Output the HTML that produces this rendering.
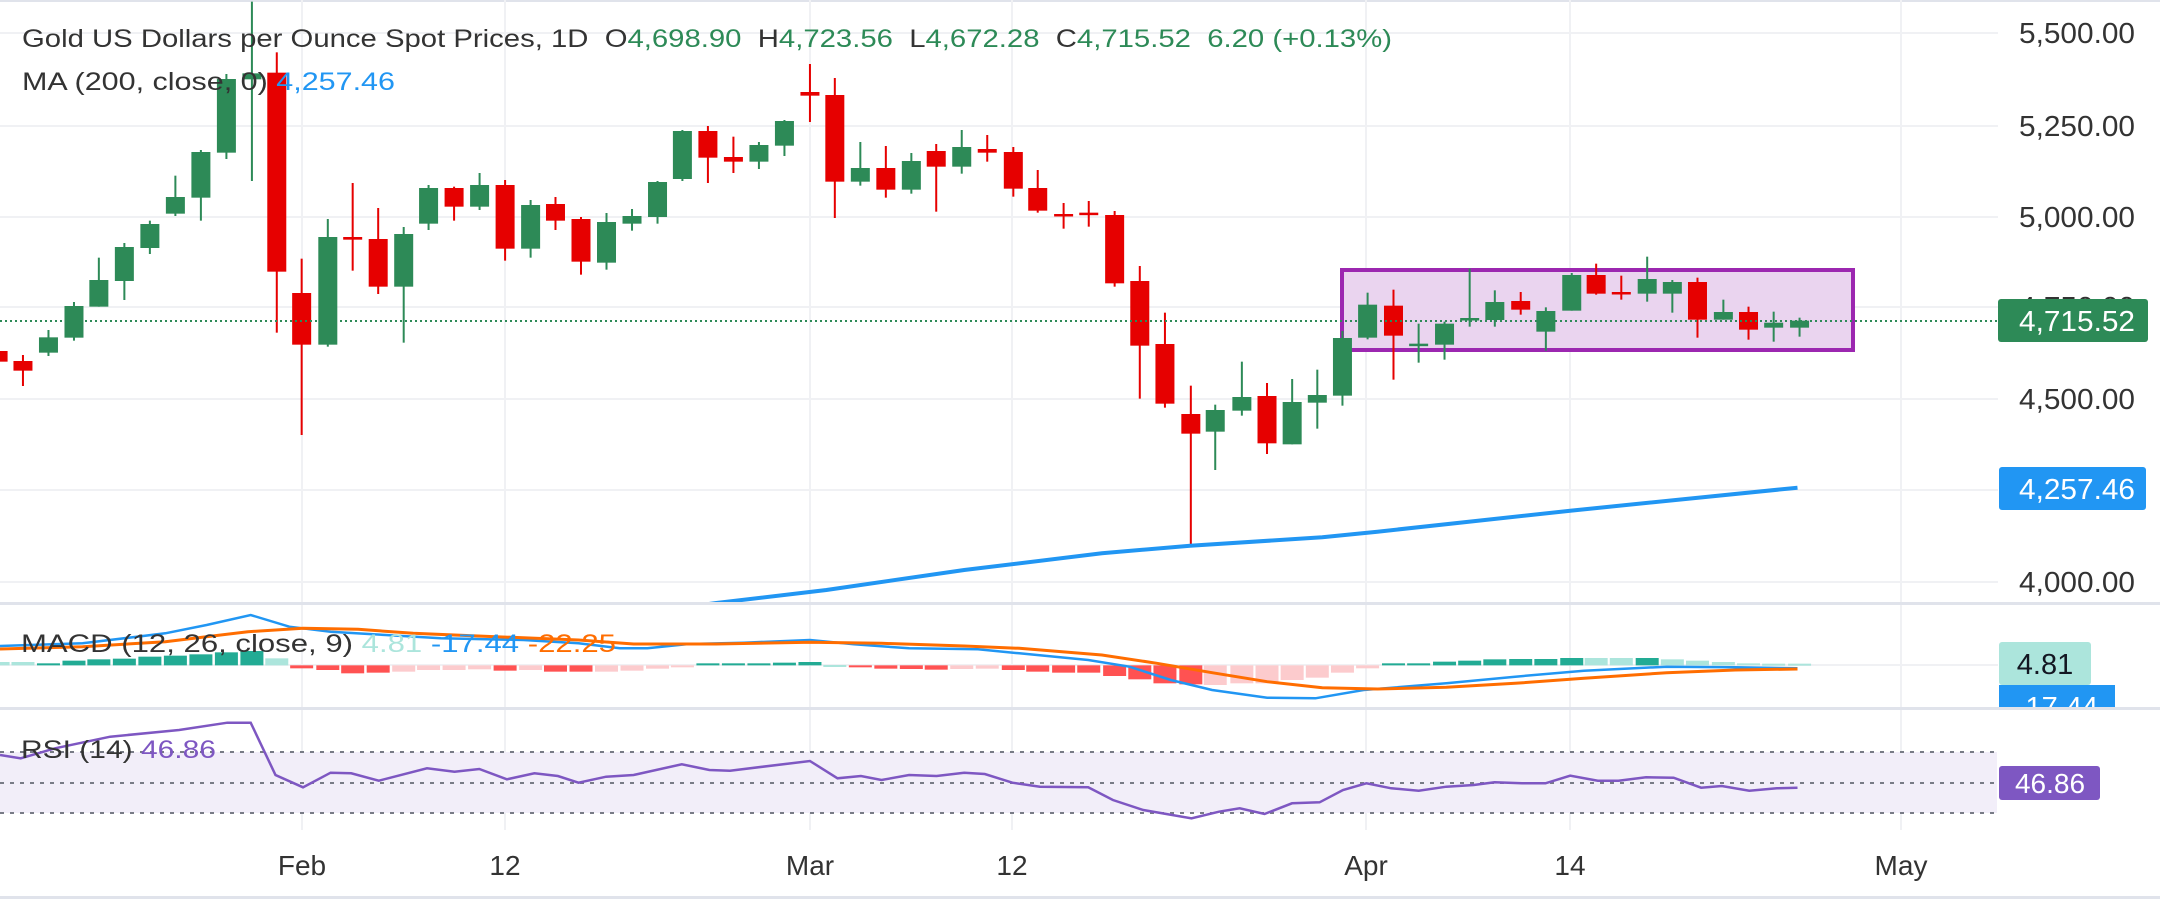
<!DOCTYPE html>
<html><head><meta charset="utf-8"><style>
html,body{margin:0;padding:0;background:#fff;}
svg{display:block;}
text{font-family:"Liberation Sans",sans-serif;white-space:pre;}
</style></head><body>
<svg id="s" width="2160" height="901" xmlns="http://www.w3.org/2000/svg">
<defs><clipPath id="mainclip"><rect x="0" y="0" width="1998" height="602"/></clipPath></defs>
<rect width="2160" height="901" fill="#fff"/>
<rect x="0" y="0" width="2160" height="2" fill="#e0e3eb"/>
<g id="grid" stroke="#f0f1f4" stroke-width="2">
<line x1="302" y1="0" x2="302" y2="830"/><line x1="505" y1="0" x2="505" y2="830"/><line x1="810" y1="0" x2="810" y2="830"/><line x1="1012" y1="0" x2="1012" y2="830"/><line x1="1366" y1="0" x2="1366" y2="830"/><line x1="1570" y1="0" x2="1570" y2="830"/><line x1="1901" y1="0" x2="1901" y2="830"/>
<line x1="0" y1="33" x2="1998" y2="33"/><line x1="0" y1="126" x2="1998" y2="126"/><line x1="0" y1="217" x2="1998" y2="217"/><line x1="0" y1="307" x2="1998" y2="307"/><line x1="0" y1="399" x2="1998" y2="399"/><line x1="0" y1="490" x2="1998" y2="490"/><line x1="0" y1="582" x2="1998" y2="582"/>
<line x1="0" y1="665" x2="1998" y2="665"/>
</g>
<rect x="1342" y="270" width="511" height="80" fill="#ead4ef" stroke="#9c27b0" stroke-width="4"/>
<g id="candles"></g>
<line x1="0" y1="321" x2="1998" y2="321" stroke="#2d8a57" stroke-width="2" stroke-dasharray="2,3"/>
<polyline id="ma" fill="none" stroke="#2196f3" stroke-width="4" clip-path="url(#mainclip)"/>
<rect x="0" y="602" width="2160" height="3" fill="#e0e3eb"/>
<g id="hist"></g>
<polyline id="macd" fill="none" stroke="#2196f3" stroke-width="2.5"/>
<polyline id="sig" fill="none" stroke="#ff6d00" stroke-width="3"/>
<rect x="0" y="707" width="2160" height="3" fill="#e0e3eb"/>
<rect x="0" y="752" width="1997" height="61" fill="#f2eef9"/>
<g stroke="#787b86" stroke-width="2" stroke-dasharray="4,6">
<line x1="0" y1="752" x2="1997" y2="752"/><line x1="0" y1="783" x2="1997" y2="783"/><line x1="0" y1="813" x2="1997" y2="813"/></g>
<polyline id="rsi" fill="none" stroke="#7e57c2" stroke-width="2.5"/>
<rect x="0" y="896" width="2160" height="3" fill="#e0e3eb"/>
<g font-size="25">
<text x="22" y="47" textLength="1370" lengthAdjust="spacingAndGlyphs" fill="#333">Gold US Dollars per Ounce Spot Prices, 1D  O<tspan fill="#2d8a57">4,698.90</tspan>  H<tspan fill="#2d8a57">4,723.56</tspan>  L<tspan fill="#2d8a57">4,672.28</tspan>  C<tspan fill="#2d8a57">4,715.52  6.20 (+0.13%)</tspan></text>
<text x="22" y="90" textLength="373" lengthAdjust="spacingAndGlyphs" fill="#333">MA (200, close, 0) <tspan fill="#2196f3">4,257.46</tspan></text>
</g>
<g font-size="25">
<text x="21" y="652" textLength="595" lengthAdjust="spacingAndGlyphs" fill="#333">MACD (12, 26, close, 9) <tspan fill="#ace5dc">4.81</tspan> <tspan fill="#2196f3">-17.44</tspan> <tspan fill="#ff6d00">-22.25</tspan></text>
<text x="21" y="758" textLength="195" lengthAdjust="spacingAndGlyphs" fill="#333">RSI (14) <tspan fill="#7e57c2">46.86</tspan></text>
</g>
<g font-size="29" fill="#333" text-anchor="end">
<text x="2135" y="43" textLength="116" lengthAdjust="spacingAndGlyphs">5,500.00</text>
<text x="2135" y="136" textLength="116" lengthAdjust="spacingAndGlyphs">5,250.00</text>
<text x="2135" y="227" textLength="116" lengthAdjust="spacingAndGlyphs">5,000.00</text>
<text x="2135" y="317" textLength="116" lengthAdjust="spacingAndGlyphs">4,750.00</text>
<text x="2135" y="409" textLength="116" lengthAdjust="spacingAndGlyphs">4,500.00</text>
<text x="2135" y="592" textLength="116" lengthAdjust="spacingAndGlyphs">4,000.00</text>
</g>
<rect x="1998" y="299" width="150" height="43" rx="3" fill="#2d8a57"/>
<text x="2135" y="331" font-size="29" fill="#fff" text-anchor="end" textLength="116" lengthAdjust="spacingAndGlyphs">4,715.52</text>
<rect x="1999" y="467" width="147" height="43" rx="3" fill="#2196f3"/>
<text x="2135" y="499" font-size="29" fill="#fff" text-anchor="end" textLength="116" lengthAdjust="spacingAndGlyphs">4,257.46</text>
<rect x="1999" y="642" width="92" height="43" rx="3" fill="#ace5dc"/>
<text x="2045" y="674" font-size="29" fill="#131722" text-anchor="middle">4.81</text>
<rect x="1999" y="685" width="116" height="22" fill="#2196f3"/>
<text x="2057" y="717" font-size="29" fill="#fff" text-anchor="middle">-17.44</text>
<rect x="0" y="707" width="2160" height="3" fill="#e0e3eb"/>
<rect x="1999" y="766" width="101" height="34" rx="3" fill="#7e57c2"/>
<text x="2050" y="793" font-size="28" fill="#fff" text-anchor="middle">46.86</text>
<g font-size="28" fill="#333" text-anchor="middle">
<text x="302" y="875">Feb</text><text x="505" y="875">12</text><text x="810" y="875">Mar</text><text x="1012" y="875">12</text><text x="1366" y="875">Apr</text><text x="1570" y="875">14</text><text x="1901" y="875">May</text>
</g>
</svg>
<script>
var NS="http://www.w3.org/2000/svg";
function el(p,t,a){var e=document.createElementNS(NS,t);for(var k in a)e.setAttribute(k,a[k]);p.appendChild(e);return e;}
var G="#2d8a57",R="#e60000";
var C=[
[1,-3,R,1053,1085,1040,1100],[1,36,R,1083,1112,1065,1158],[1,76,G,1012,1058,990,1068],[1,116,G,918,1013,906,1022],[1,155,G,840,920,773,920],[1,195,G,741,843,729,900],[1,235,G,672,744,662,762],[1,275,G,591,641,527,648],[1,315,G,456,593,450,662],[1,355,G,237,458,222,477],[1,395,G,220,238,5,543],[1,434,R,218,815,157,998],[1,473,R,879,1034,776,1305],[1,514,G,711,1034,657,1040],[1,553,R,711,719,549,812],[1,593,R,717,860,624,882],[1,633,G,702,860,681,1028],[1,672,G,564,671,555,690],[1,712,R,564,620,560,662],[1,752,G,555,620,519,630],[1,792,R,555,746,540,782],[1,832,G,615,746,600,773],[1,871,R,612,662,591,690],[1,911,R,657,785,651,824],[1,951,G,666,788,639,809],[1,991,G,648,671,627,692],[1,1031,G,546,651,543,671],[1,1070,G,393,537,390,543],[1,1110,R,393,473,378,549],[1,1150,R,471,485,410,519],[1,1190,G,435,485,426,507],[1,1230,G,363,437,360,468],[1,1270,R,276,287,192,366],[1,1309,R,285,545,234,654],[1,1349,G,504,545,426,557],[1,1389,R,504,569,438,593],[1,1429,G,483,569,459,581],[1,1468,R,453,500,432,635],[1,1508,G,441,500,390,521],[1,1548,R,447,458,405,485],
[2,18,R,456,566,441,590],[2,51,R,564,632,510,638],[2,86,R,642,646,609,686],[2,120,R,638,644,603,680],[2,155,R,645,850,633,860],[2,189,R,843,1037,798,1196],[2,223,R,1032,1211,938,1223],[2,258,R,1242,1301,1157,1635],[2,291,G,1230,1295,1214,1410],[2,327,G,1191,1232,1085,1247],[2,361,R,1188,1330,1149,1362],[2,395,G,1206,1333,1137,1333],[2,429,G,1185,1208,1109,1286],[2,463,G,1014,1187,993,1217],[2,497,G,914,1013,878,1018],[2,532,R,917,1007,869,1139],[2,566,G,1031,1035,971,1088],[2,601,G,971,1034,965,1079],[2,635,G,954,960,806,980],[2,669,G,906,960,871,980],[2,704,R,903,929,876,944],[2,738,G,933,995,922,1052],[2,773,G,825,932,819,932],[2,806,R,825,881,791,884],[2,840,R,876,881,827,899],[2,875,G,837,881,770,905],[2,909,G,846,881,840,938],[2,943,R,846,959,833,1013],[2,978,G,936,959,899,959],[2,1012,R,936,989,920,1019],[2,1046,G,968,983,935,1025],[2,1081,G,962,983,953,1010]];
var cg=document.getElementById("candles"),xs=[];
C.forEach(function(c){var x=c[0]==1?c[1]/1.568:c[1]/1.352+1000;xs.push(x);
el(cg,"rect",{x:x-1,y:c[5]/3,width:2,height:(c[6]-c[5])/3,fill:c[2]});
var h=Math.max((c[4]-c[3])/3,2.5);el(cg,"rect",{x:x-9.5,y:c[3]/3,width:19,height:h,fill:c[2]});});
var H=[["l",636],["l",636],["g",640],["g",632],["g",628],["g",626],["g",620],["g",617],["g",613],["g",607],["g",603],["l",625],["r",655],["r",660],["r",670],["r",668],["p",665],["p",660],["p",660],["p",658],["r",662],["p",660],["r",665],["r",665],["p",665],["p",662],["p",656],["p",652],["g",640],["g",640],["g",640],["g",638],["g",636],["l",645],["r",650],["r",656],["r",657],["r",659],["p",657],["p",656],["r",660],["r",665],["r",668],["r",668],["r",678],["r",688],["r",700],["r",703],["p",705],["p",700],["p",700],["p",690],["p",683],["p",668],["p",655],["g",640],["g",640],["g",635],["g",632],["g",628],["g",627],["g",627],["g",624],["l",624],["l",624],["g",624],["l",628],["l",632],["l",636],["l",640],["l",641],["l",641]];
var col={l:"#ace5dc",g:"#22ab94",r:"#ff5252",p:"#fccbcd"},hg=document.getElementById("hist"),base=646/3+450;
H.forEach(function(b,i){var x=xs[i],y=b[1]/3+450,t=Math.min(y,base),h=Math.max(Math.abs(y-base),2);
el(hg,"rect",{x:x-11.5,y:t,width:23,height:h,fill:col[b[0]]});});
function pl(id,pts){document.getElementById(id).setAttribute("points",pts.map(function(p){return (p[0]/0.726).toFixed(1)+","+(p[1]/3+450).toFixed(1);}).join(" "));}
pl("ma",[[500,470],[520,459],[600,420],[700,360],[800,310],[864,287],[960,262],[1000,245],[1140,182],[1305,113]]);
pl("macd",[[0,588],[60,580],[120,550],[150,525],[182,495],[210,530],[240,545],[280,555],[320,565],[380,570],[420,580],[450,595],[470,595],[500,582],[540,578],[588,570],[620,583],[660,595],[710,598],[740,610],[790,630],[820,650],[850,690],[880,720],[920,743],[955,745],[990,720],[1050,700],[1100,680],[1150,662],[1210,650],[1260,652],[1305,655]]);
pl("sig",[[0,597],[60,590],[120,575],[180,545],[220,535],[260,538],[300,550],[360,560],[420,570],[460,582],[520,582],[588,577],[640,580],[700,588],[740,595],[800,615],[840,640],[880,668],[920,695],[960,713],[1000,717],[1050,712],[1100,700],[1150,685],[1210,668],[1260,660],[1305,657]]);
pl("rsi",[[0,915],[15,925],[40,895],[80,860],[130,840],[165,818],[182,818],[200,975],[220,1012],[240,968],[255,970],[275,992],[310,955],[330,965],[348,957],[368,988],[388,970],[405,978],[420,998],[440,980],[460,975],[495,943],[515,960],[530,962],[588,933],[608,985],[625,978],[640,990],[660,975],[680,978],[700,968],[715,972],[735,998],[755,1010],[790,1012],[808,1050],[830,1080],[865,1105],[885,1085],[900,1075],[918,1092],[938,1060],[958,1057],[975,1020],[992,1000],[1010,1015],[1030,1022],[1050,1010],[1070,1005],[1085,997],[1105,1000],[1122,1000],[1140,977],[1160,992],[1175,992],[1195,982],[1215,983],[1235,1013],[1250,1008],[1270,1022],[1290,1015],[1305,1013]]);
</script>
</body></html>
